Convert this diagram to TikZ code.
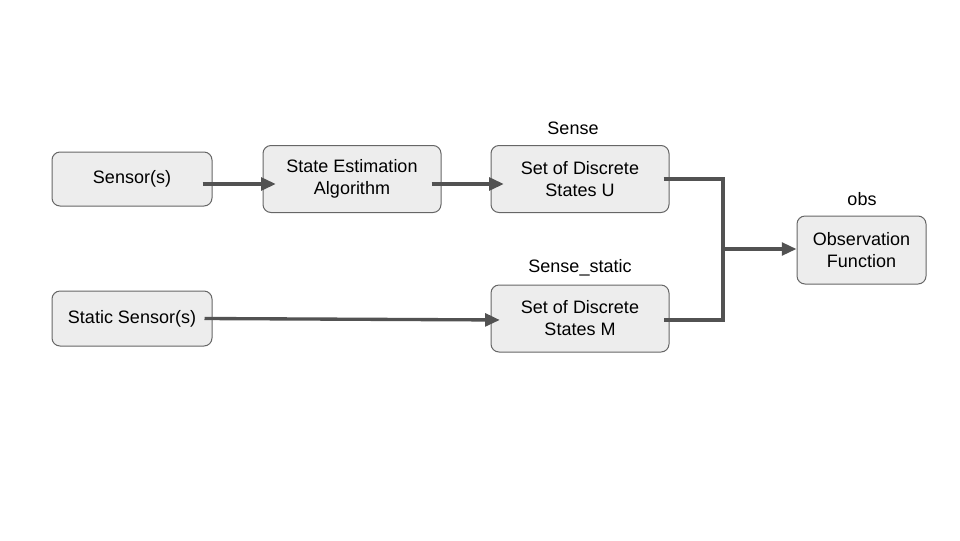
\documentclass[tikz,border=0pt]{standalone}
\usepackage{fontspec}
\setmainfont{Liberation Sans}
\usetikzlibrary{arrows.meta}
\begin{document}
\begin{tikzpicture}[x=0.75pt,y=-0.75pt,
  box/.style={draw=black!60, line width=0.75pt, fill=black!7, rounded corners=6pt,
    align=center, inner sep=0pt, font=\fontsize{13.5}{16.5}\selectfont},
  lbl/.style={font=\fontsize{13.5}{16}\selectfont, inner sep=0pt},
  conn/.style={draw=black!68, line width=2.5pt},
  arr/.style={conn, -{Triangle[length=11pt,width=9.5pt]}}]
\useasboundingbox (0,0) rectangle (960,540);
\node[box, minimum width=120pt, minimum height=40.5pt] (sens) at (132,179) {Sensor(s)};
\node[box, minimum width=133.5pt, minimum height=50.25pt] (sea) at (352,179) {State Estimation\\Algorithm};
\node[box, minimum width=133.5pt, minimum height=50.25pt] (setu) at (580,179) {Set of Discrete\\States U};
\node[box, minimum width=96.75pt, minimum height=51pt] (obsf) at (861.5,250) {Observation\\Function};
\node[box, minimum width=120pt, minimum height=41.25pt] (ssens) at (132,318.5) {Static Sensor(s)};
\node[box, minimum width=133.5pt, minimum height=50.25pt] (setm) at (580,318.5) {Set of Discrete\\States M};
\node[lbl] (lsense) at (573,128) {Sense};
\node[lbl] (lobs) at (862,199) {obs};
\node[lbl] (lstatic) at (580,268) {Sense\_static};
\coordinate (jtop) at (723,179);
\coordinate (jbot) at (723,320);
\coordinate (jmid) at (723,249);
\draw[arr] ([xshift=-7.5pt,yshift=-3.75pt]sens.east) -- ([xshift=10pt,yshift=-3.75pt]sea.west);
\draw[arr] ([xshift=-7.5pt,yshift=-3.75pt]sea.east) -- ([xshift=10pt,yshift=-3.75pt]setu.west);
\draw[arr] ([xshift=-6pt]ssens.east) -- ([xshift=7pt,yshift=-1.1pt]setm.west);
\draw[conn] ([xshift=-4.5pt]setu.east |- jtop) -- (jtop) -- (jbot) -- ([xshift=-4.5pt]setm.east |- jbot);
\draw[arr] (jmid) -- (obsf.west |- jmid);
\end{tikzpicture}
\end{document}
